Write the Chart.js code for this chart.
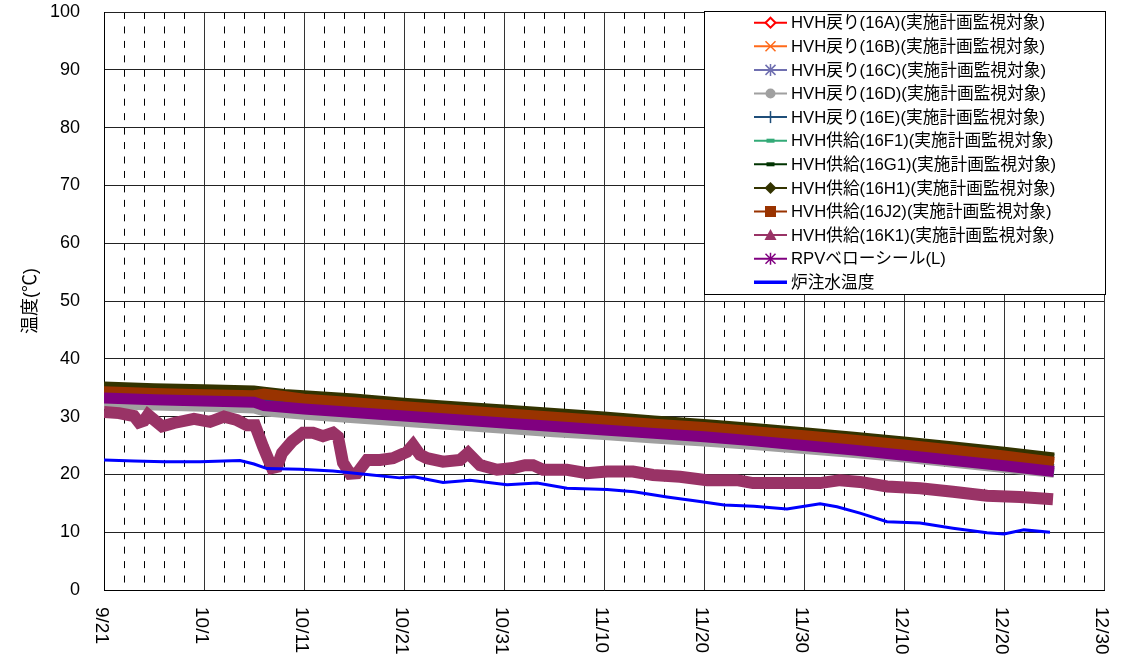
<!DOCTYPE html>
<html>
<head>
<meta charset="utf-8">
<script src="https://cdn.jsdelivr.net/npm/chart.js@4.4.1/dist/chart.umd.min.js"></script>
<style>
  html, body { margin: 0; padding: 0; background: #fff; }
  #wrap { width: 1124px; height: 669px; }
</style>
</head>
<body>
<div id="wrap"><canvas id="myChart" width="1124" height="669"></canvas></div>
<script>
// x = days since 9/21
const xTickValues = [0, 10, 20, 30, 40, 50, 60, 70, 80, 90, 100];
const xTickLabels = ['9/21', '10/1', '10/11', '10/21', '10/31', '11/10', '11/20', '11/30', '12/10', '12/20', '12/30'];

const seriesNames = [
  'HVH戻り(16A)(実施計画監視対象)',
  'HVH戻り(16B)(実施計画監視対象)',
  'HVH戻り(16C)(実施計画監視対象)',
  'HVH戻り(16D)(実施計画監視対象)',
  'HVH戻り(16E)(実施計画監視対象)',
  'HVH供給(16F1)(実施計画監視対象)',
  'HVH供給(16G1)(実施計画監視対象)',
  'HVH供給(16H1)(実施計画監視対象)',
  'HVH供給(16J2)(実施計画監視対象)',
  'HVH供給(16K1)(実施計画監視対象)',
  'RPVベローシール(L)',
  '炉注水温度'
];

const bandDays = [0, 5, 10, 15, 16, 18, 20, 25, 30, 35, 40, 45, 50, 55, 60, 65, 70, 75, 80, 85, 90, 95];
const t16A  = [34.4, 34.1, 33.9, 33.7, 33.8, 33.5, 33.1, 32.5, 31.8, 31.2, 30.6, 30.0, 29.4, 28.8, 28.2, 27.5, 26.8, 26.0, 25.2, 24.3, 23.3, 22.2];
const t16B  = [34.0, 33.7, 33.5, 33.3, 33.4, 33.1, 32.7, 32.1, 31.4, 30.8, 30.2, 29.6, 29.0, 28.4, 27.8, 27.1, 26.4, 25.6, 24.8, 23.9, 22.9, 21.8];
const t16C  = [33.3, 33.0, 32.8, 32.6, 32.0, 31.7, 31.4, 30.8, 30.2, 29.6, 29.0, 28.4, 27.8, 27.2, 26.6, 25.9, 25.1, 24.3, 23.4, 22.5, 21.6, 20.6];
const t16D  = [32.2, 31.9, 31.7, 31.4, 30.9, 30.6, 30.3, 29.7, 29.1, 28.5, 27.9, 27.3, 26.8, 26.2, 25.7, 25.1, 24.4, 23.7, 22.9, 22.0, 21.1, 20.3];
const t16E  = [34.0, 33.7, 33.5, 33.3, 32.7, 32.4, 32.1, 31.5, 30.9, 30.3, 29.7, 29.1, 28.5, 27.9, 27.3, 26.6, 25.8, 25.0, 24.1, 23.2, 22.3, 21.3];
const t16F1 = [32.9, 32.6, 32.4, 32.2, 31.6, 31.3, 31.0, 30.4, 29.8, 29.2, 28.6, 28.0, 27.4, 26.8, 26.2, 25.5, 24.7, 23.9, 23.0, 22.1, 21.2, 20.2];
const t16G1 = [35.1, 34.8, 34.6, 34.4, 34.2, 33.8, 33.6, 33.0, 32.3, 31.7, 31.1, 30.5, 29.9, 29.2, 28.6, 27.9, 27.2, 26.4, 25.6, 24.7, 23.8, 22.8];
const t16H1 = [35.3, 35.0, 34.8, 34.6, 34.4, 34.0, 33.8, 33.2, 32.5, 31.9, 31.3, 30.7, 30.1, 29.4, 28.8, 28.1, 27.4, 26.6, 25.8, 24.9, 24.0, 23.0];
const t16J2 = [34.3, 34.0, 33.8, 33.6, 33.9, 33.5, 33.0, 32.4, 31.7, 31.1, 30.5, 29.9, 29.3, 28.7, 28.1, 27.4, 26.7, 25.9, 25.1, 24.2, 23.2, 22.1];
const tRPV  = [33.2, 32.9, 32.7, 32.5, 31.9, 31.6, 31.3, 30.7, 30.1, 29.5, 28.9, 28.3, 27.7, 27.1, 26.5, 25.8, 25.0, 24.2, 23.3, 22.4, 21.5, 20.5];

const k1Days = [0, 1.5, 3, 3.5, 4, 4.4, 5.8, 7, 9, 10.6, 12, 13.3, 14.3, 15.1, 15.9, 16.8, 17.3, 17.8, 18.8, 19.9,
  20.9, 21.9, 22.9, 23.4, 23.9, 24.6, 25.3, 26.3, 27.6, 28.9, 30.3, 30.9, 31.6, 32.3, 33.9, 35.6, 36.4, 37.6, 39.3, 40.9,
  42.1, 42.9, 43.9, 46.3, 48.3, 50.3, 52.9, 54.9, 57.6, 60.3, 63.3, 64.9, 68.3, 71.6, 73.6, 75.6, 78.3, 81.6, 84.9, 88.3,
  91.6, 94.9];
const t16K1 = [30.8, 30.6, 30.1, 29.0, 29.3, 30.3, 28.3, 28.9, 29.6, 29.1, 30.0, 29.4, 28.5, 28.5, 24.8, 21.1, 21.3, 23.7, 25.7, 27.2,
  27.2, 26.6, 27.2, 26.5, 22.0, 20.1, 20.2, 22.5, 22.5, 22.8, 23.9, 25.1, 23.4, 22.8, 22.2, 22.5, 23.7, 21.6, 20.8, 21.1,
  21.6, 21.6, 20.8, 20.8, 20.2, 20.5, 20.5, 19.9, 19.6, 19.0, 19.0, 18.5, 18.5, 18.5, 19.0, 18.7, 17.9, 17.6, 17.0, 16.3,
  16.1, 15.7];

const waterDays = [0, 3, 6, 9.6, 13.6, 15, 16.3, 19.6, 22.9, 26.3, 29.6, 31, 33.9, 36.6, 40.3, 43.3, 46.3, 50.3, 53, 56.3,
  59.6, 62, 65, 68.3, 71.6, 73.3, 75.6, 78.3, 81.6, 84.9, 88.3, 90, 92, 94.6];
const tWater = [22.5, 22.3, 22.2, 22.2, 22.4, 21.8, 21.0, 20.9, 20.6, 20.0, 19.4, 19.6, 18.6, 19.0, 18.2, 18.5, 17.6, 17.4, 17.0, 16.1,
  15.3, 14.7, 14.5, 14.0, 14.9, 14.4, 13.3, 11.8, 11.6, 10.7, 9.9, 9.7, 10.4, 10.0];

const seriesDays   = [bandDays, bandDays, bandDays, bandDays, bandDays, bandDays, bandDays, bandDays, bandDays, k1Days, bandDays, waterDays];
const seriesValues = [t16A, t16B, t16C, t16D, t16E, t16F1, t16G1, t16H1, t16J2, t16K1, tRPV, tWater];
const seriesColors = ['#ff0000', '#ff6a1a', '#6f6fb0', '#a0a0a0', '#1f4e79', '#33aa77', '#003300', '#333300', '#993300', '#993366', '#800080', '#0000ff'];
const seriesWidths = [6, 6, 6, 10, 6, 6, 9, 9, 11, 12, 11, 3];
const legendMarks  = ['diamondOpen', 'x', 'star', 'circle', 'plus', 'dash', 'dash', 'diamond', 'square', 'triangle', 'star', 'none'];

const FONT = '"Liberation Sans", Arial, "Noto Sans CJK JP", sans-serif';

function drawMarker(c, kind, x, y, color) {
  c.save();
  c.strokeStyle = color;
  c.fillStyle = color;
  c.lineWidth = 1.5;
  c.beginPath();
  if (kind === 'diamondOpen') {
    c.fillStyle = '#fff';
    c.lineWidth = 2;
    c.moveTo(x, y - 5); c.lineTo(x + 5, y); c.lineTo(x, y + 5); c.lineTo(x - 5, y); c.closePath();
    c.fill(); c.stroke();
  } else if (kind === 'x') {
    c.moveTo(x - 5, y - 5); c.lineTo(x + 5, y + 5);
    c.moveTo(x - 5, y + 5); c.lineTo(x + 5, y - 5);
    c.stroke();
  } else if (kind === 'star') {
    c.moveTo(x - 5, y - 5); c.lineTo(x + 5, y + 5);
    c.moveTo(x - 5, y + 5); c.lineTo(x + 5, y - 5);
    c.moveTo(x, y - 6); c.lineTo(x, y + 6);
    c.stroke();
  } else if (kind === 'circle') {
    c.arc(x, y, 5, 0, Math.PI * 2);
    c.fill();
  } else if (kind === 'plus') {
    c.moveTo(x, y - 6); c.lineTo(x, y + 6);
    c.stroke();
  } else if (kind === 'dash') {
    c.fillRect(x - 4, y - 2, 8, 4);
  } else if (kind === 'diamond') {
    c.moveTo(x, y - 6); c.lineTo(x + 6, y); c.lineTo(x, y + 6); c.lineTo(x - 6, y); c.closePath();
    c.fill();
  } else if (kind === 'square') {
    c.fillRect(x - 5.5, y - 5.5, 11, 11);
  } else if (kind === 'triangle') {
    c.moveTo(x, y - 6); c.lineTo(x + 6, y + 5); c.lineTo(x - 6, y + 5); c.closePath();
    c.fill();
  }
  c.restore();
}

const legendBox = {
  id: 'legendBox',
  afterDraw(chart) {
    const c = chart.ctx;
    c.save();
    c.fillStyle = '#fff';
    c.fillRect(704, 11, 402, 284);
    c.strokeStyle = '#000';
    c.lineWidth = 1;
    c.strokeRect(704.5, 11.5, 401, 283);
    chart.data.datasets.forEach((ds, i) => {
      const y = 22.7 + i * 23.6;
      c.strokeStyle = ds.borderColor;
      c.lineWidth = i === 11 ? 3.5 : 2;
      c.beginPath();
      c.moveTo(754, y);
      c.lineTo(787, y);
      c.stroke();
      drawMarker(c, legendMarks[i], 770.5, y, ds.borderColor);
      c.fillStyle = '#000';
      c.font = '16.7px ' + FONT;
      c.textAlign = 'left';
      c.textBaseline = 'middle';
      c.fillText(ds.label, 791, y + 1);
    });
    c.restore();
  }
};

const rotatedTicks = {
  id: 'rotatedTicks',
  afterDraw(chart) {
    const sx = chart.scales.x;
    const c = chart.ctx;
    xTickValues.forEach((v, i) => {
      const px = sx.getPixelForValue(v);
      c.save();
      c.translate(px - 3, sx.top + 17);
      c.rotate(Math.PI / 2);
      c.font = '19px ' + FONT;
      c.fillStyle = '#000';
      c.textAlign = 'left';
      c.textBaseline = 'middle';
      c.fillText(xTickLabels[i], 0, 0);
      c.restore();
    });
  }
};

const datasets = seriesNames.map((name, i) => ({
  label: name,
  data: seriesDays[i].map((d, j) => ({ x: d, y: seriesValues[i][j] })),
  borderColor: seriesColors[i],
  backgroundColor: seriesColors[i],
  borderWidth: seriesWidths[i],
  pointRadius: 0,
  tension: 0,
  fill: false,
  order: seriesNames.length - i,
  xAxisID: 'x',
  yAxisID: 'y'
}));

const ctx = document.getElementById('myChart');
const myChart = new Chart(ctx, {
  type: 'line',
  data: { datasets: datasets },
  options: {
    responsive: false,
    animation: false,
    devicePixelRatio: 1,
    layout: { padding: { top: 12, right: 20, left: 0, bottom: 0 } },
    plugins: {
      legend: { display: false },
      tooltip: { enabled: false }
    },
    scales: {
      x: {
        type: 'linear',
        min: 0,
        max: 100,
        ticks: { stepSize: 10, display: false },
        grid: { color: '#333', lineWidth: 1, drawTicks: false },
        border: { color: '#000', width: 1 },
        afterFit: s => { s.height = 79; s.paddingLeft = 0; s.paddingRight = 0; }
      },
      x2: {
        type: 'linear',
        position: 'bottom',
        min: 0,
        max: 100,
        ticks: { stepSize: 2, display: false },
        grid: {
          color: c => (c.tick && c.tick.value % 10 === 0) ? 'rgba(0,0,0,0)' : '#000',
          lineWidth: 1,
          drawTicks: false
        },
        border: { display: false, dash: [7, 7.45] },
        afterFit: s => { s.height = 0; s.paddingLeft = 0; s.paddingRight = 0; }
      },
      y: {
        min: 0,
        max: 100,
        ticks: {
          stepSize: 10,
          color: '#000',
          padding: 24,
          font: { family: FONT, size: 18 }
        },
        grid: { color: '#222', lineWidth: 1, drawTicks: false },
        border: { color: '#000', width: 1 },
        title: {
          display: true,
          text: '温度(℃)',
          color: '#000',
          font: { family: FONT, size: 18 },
          padding: { top: 20, bottom: 0 }
        },
        afterFit: s => { s.width = 104; s.paddingTop = 0; s.paddingBottom = 0; }
      }
    }
  },
  plugins: [legendBox, rotatedTicks]
});
</script>
</body>
</html>
